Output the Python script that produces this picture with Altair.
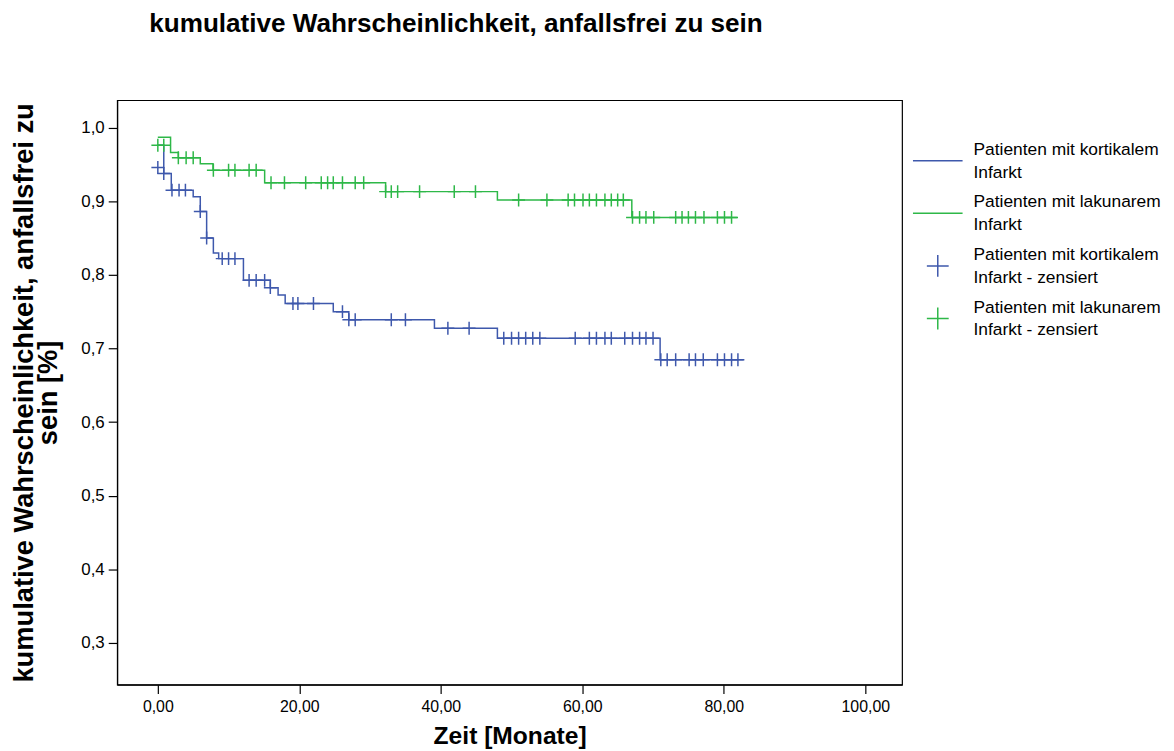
import altair as alt
import pandas as pd

BLUE = "#3e58ac"
GREEN = "#2eb848"

L_KORT = "Patienten mit kortikalem Infarkt"
L_LAK = "Patienten mit lakunarem Infarkt"
L_KORT_Z = "Patienten mit kortikalem Infarkt - zensiert"
L_LAK_Z = "Patienten mit lakunarem Infarkt - zensiert"
LEGEND_ORDER = [L_KORT, L_LAK, L_KORT_Z, L_LAK_Z]

# Kaplan-Meier step curves (time in months, cumulative probability)
kort_time = [0, 0.84, 1.9, 5.0, 6.0, 6.9, 7.85, 8.6, 12.1, 15.9, 17.0, 18.0,
             24.8, 27.0, 39.1, 48.0, 71.0, 82.8]
kort_surv = [0.976, 0.9376, 0.915, 0.906, 0.886, 0.850, 0.8297, 0.822, 0.7925,
             0.7826, 0.7726, 0.761, 0.750, 0.739, 0.7274, 0.7139, 0.6846, 0.6846]

lak_time = [0, 1.8, 2.9, 6.0, 7.8, 15.1, 32.2, 48.0, 67.0, 81.9]
lak_surv = [0.987, 0.966, 0.959, 0.951, 0.942, 0.925, 0.913, 0.9016, 0.878, 0.878]

# censored observations
kort_cens_time = [0, 0.84, 2.0, 3.0, 3.9, 6.0, 6.9, 9.1, 10.0, 10.9, 12.9, 13.9,
                  15.1, 15.9, 19.1, 19.8, 22.0, 26.1, 27.0, 27.9, 33.0, 35.0,
                  41.0, 44.0, 48.9, 50.0, 51.0, 52.0, 53.0, 54.0, 59.0, 61.0,
                  62.0, 63.2, 64.1, 66.0, 67.1, 68.1, 69.0, 70.0, 71.1, 72.0,
                  73.2, 75.1, 76.0, 77.1, 79.1, 80.1, 81.1, 82.0]
kort_cens_surv = [0.9457, 0.9376, 0.915, 0.915, 0.915, 0.886, 0.850, 0.822,
                  0.822, 0.822, 0.7925, 0.7925, 0.7925, 0.7826, 0.761, 0.761,
                  0.761, 0.750, 0.739, 0.739, 0.739, 0.739, 0.7274, 0.7274,
                  0.7139, 0.7139, 0.7139, 0.7139, 0.7139, 0.7139, 0.7139,
                  0.7139, 0.7139, 0.7139, 0.7139, 0.7139, 0.7139, 0.7139,
                  0.7139, 0.7139, 0.6846, 0.6846, 0.6846, 0.6846, 0.6846,
                  0.6846, 0.6846, 0.6846, 0.6846, 0.6846]

lak_cens_time = [0, 0.84, 2.9, 4.0, 5.0, 7.85, 10.0, 10.9, 12.9, 13.9, 16.0,
                 17.9, 20.9, 23.1, 24.0, 24.8, 26.1, 27.9, 29.1, 32.2, 33.0,
                 33.9, 37.0, 41.9, 44.9, 51.0, 55.0, 58.0, 58.9, 60.1, 61.0,
                 62.0, 63.2, 64.1, 65.0, 65.8, 67.1, 68.1, 69.0, 70.1, 73.2,
                 74.1, 75.0, 76.0, 77.2, 79.1, 80.1, 81.1]
lak_cens_surv = [0.976, 0.976, 0.959, 0.959, 0.959, 0.942, 0.942, 0.942,
                 0.942, 0.942, 0.925, 0.925, 0.925, 0.925, 0.925, 0.925,
                 0.925, 0.925, 0.925, 0.913, 0.913, 0.913, 0.913, 0.913,
                 0.913, 0.9016, 0.9016, 0.9016, 0.9016, 0.9016, 0.9016,
                 0.9016, 0.9016, 0.9016, 0.9016, 0.9016, 0.878, 0.878, 0.878,
                 0.878, 0.878, 0.878, 0.878, 0.878, 0.878, 0.878, 0.878, 0.878]

x_ticks = [0, 20, 40, 60, 80, 100]
y_ticks = [0.3, 0.4, 0.5, 0.6, 0.7, 0.8, 0.9, 1.0]

curves = pd.concat([
    pd.DataFrame({"t": kort_time, "s": kort_surv, "legend": L_KORT}),
    pd.DataFrame({"t": lak_time, "s": lak_surv, "legend": L_LAK}),
])
censored = pd.concat([
    pd.DataFrame({"t": kort_cens_time, "s": kort_cens_surv, "legend": L_KORT_Z}),
    pd.DataFrame({"t": lak_cens_time, "s": lak_cens_surv, "legend": L_LAK_Z}),
])

LINE_PATH = "M-1,0H1"
CROSS_PATH = "M-0.44,0H0.44M0,-0.44V0.44"

legend = alt.Legend(
    orient="none", legendX=801, legendY=35,
    symbolSize=2500, symbolStrokeWidth=1.5,
    labelFontSize=17.5, labelLimit=400, labelOffset=10, labelColor="black",
    labelFont="Liberation Sans", labelBaseline="line-bottom",
    rowPadding=6,
    labelExpr="split(replace(datum.label, ' Infarkt', '|Infarkt'), '|')",
)

color_scale = alt.Scale(domain=LEGEND_ORDER, range=[BLUE, GREEN, BLUE, GREEN])
shape_scale = alt.Scale(domain=LEGEND_ORDER,
                        range=[LINE_PATH, LINE_PATH, CROSS_PATH, CROSS_PATH])

x_enc = alt.X("t:Q", scale=alt.Scale(domain=[-5.75, 105.2], nice=False, zero=False),
              axis=alt.Axis(values=x_ticks, title="Zeit [Monate]",
                            labelExpr="replace(format(datum.value, '.2f'), '.', ',')"))
y_enc = alt.Y("s:Q", scale=alt.Scale(domain=[0.2434, 1.0372], nice=False, zero=False),
              axis=alt.Axis(values=y_ticks,
                            title=["kumulative Wahrscheinlichkeit, anfallsfrei zu", "sein [%]"],
                            labelExpr="replace(format(datum.value, '.1f'), '.', ',')"))

lines = alt.Chart(curves).mark_line(interpolate="step-after", strokeWidth=1.5).encode(
    x=x_enc, y=y_enc,
    color=alt.Color("legend:N", scale=color_scale, legend=legend, title=None),
)

points = alt.Chart(censored).mark_point(filled=False, strokeWidth=1.5, size=873, opacity=1).encode(
    x=x_enc, y=y_enc,
    color=alt.Color("legend:N", scale=color_scale, legend=legend, title=None),
    shape=alt.Shape("legend:N", scale=shape_scale, legend=legend, title=None),
)

chart = alt.layer(lines, points).properties(
    width=791, height=589,
    title=alt.TitleParams("kumulative Wahrscheinlichkeit, anfallsfrei zu sein",
                          fontSize=26.3, fontWeight="bold", anchor="middle",
                          frame="group", dx=-54, offset=63, color="black"),
    padding={"left": 2, "top": 0, "right": 5, "bottom": 2},
).configure(
    font="Liberation Sans",
    style={"guide-label": {"lineHeight": 23}},
).configure_view(
    stroke="black", strokeWidth=1.2,
).configure_axis(
    grid=False, domainColor="black", tickColor="black", labelColor="black",
    titleColor="black", labelFontSize=16, tickSize=9, labelPadding=4,
    domainWidth=1.2, tickWidth=1.2,
).configure_axisX(
    titleFontSize=24.8, titleFontWeight="bold", titlePadding=9, labelPadding=5,
).configure_axisY(
    titleFontSize=27.5, titleFontWeight="bold", titlePadding=18, titleLineHeight=25,
    labelFontSize=17,
)

chart.save("out.html", embed_options={"renderer": "svg", "actions": False})
